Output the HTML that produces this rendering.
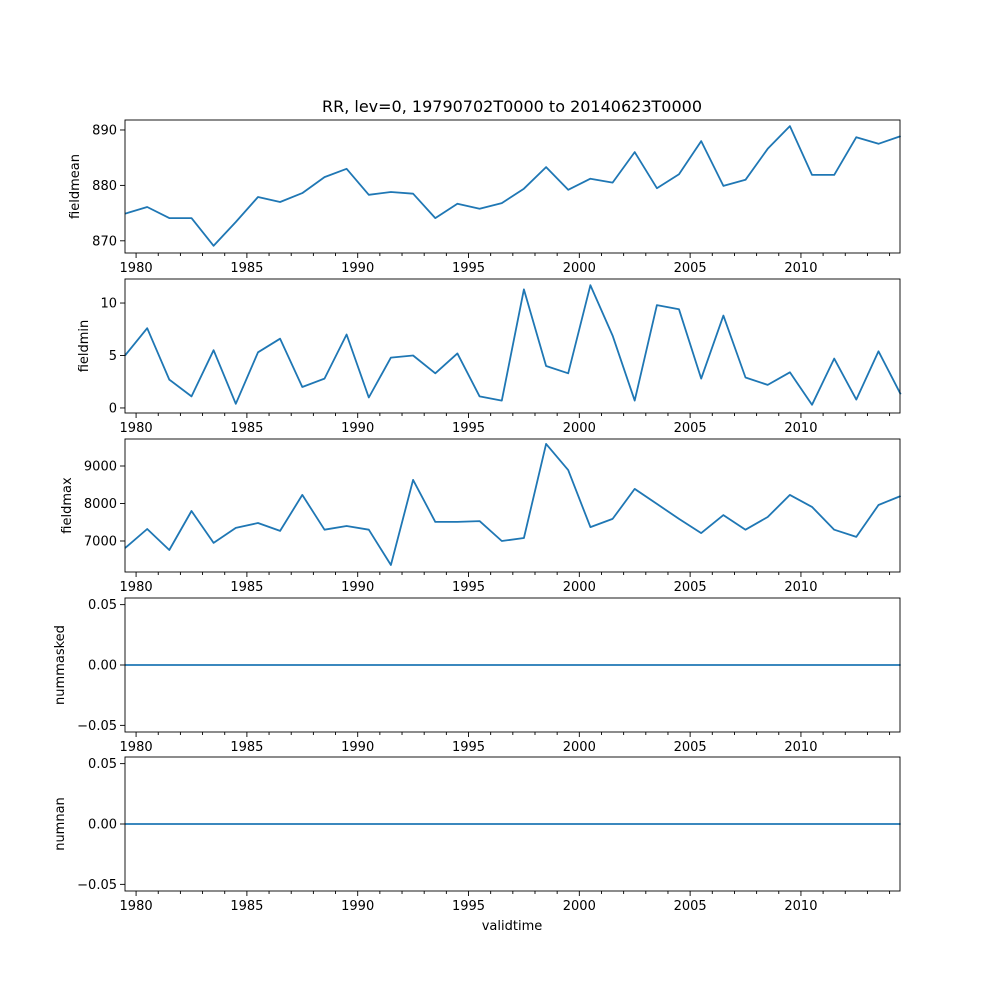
<!DOCTYPE html>
<html><head><meta charset="utf-8">
<style>body{margin:0;background:#fff}svg{display:block;font-family:"DejaVu Sans","Liberation Sans",sans-serif}</style>
</head><body>
<svg id="fig" width="1000" height="1000">
<text x="512" y="112" font-size="16" text-anchor="middle">RR, lev=0, 19790702T0000 to 20140623T0000</text>
<text x="512" y="930" font-size="13" text-anchor="middle">validtime</text>
</svg>
<script>
const years = [];
for (let i = 0; i < 36; i++) years.push(1979.5 + i);
const fieldmean = [874.9,876.1,874.1,874.1,869.1,873.4,877.9,877.0,878.6,881.5,883.0,878.3,878.8,878.5,874.1,876.7,875.8,876.8,879.4,883.3,879.2,881.2,880.5,886.0,879.5,882.0,888.0,879.9,881.0,886.6,890.7,881.9,881.9,888.7,887.5,888.9];
const fieldmin = [5.0,7.6,2.7,1.1,5.5,0.4,5.3,6.6,2.0,2.8,7.0,1.0,4.8,5.0,3.3,5.2,1.1,0.7,11.3,4.0,3.3,11.7,6.9,0.7,9.8,9.4,2.8,8.8,2.9,2.2,3.4,0.3,4.7,0.8,5.4,1.3];
const fieldmax = [6810,7320,6760,7800,6950,7350,7480,7270,8230,7300,7400,7300,6360,8630,7510,7510,7530,7000,7080,9590,8890,7370,7590,8390,7990,7590,7210,7690,7300,7640,8230,7910,7300,7110,7960,8200];
const nummasked = new Array(36).fill(0);
const numnan = new Array(36).fill(0);
const xTicks = [1980,1985,1990,1995,2000,2005,2010];
const panels = [
 {name:'fieldmean',data:fieldmean,top:120,bot:253,ymin:867.8,ymax:891.8,ticks:[870,880,890],labels:['870','880','890'],lx:79},
 {name:'fieldmin',data:fieldmin,top:279,bot:413,ymin:-0.48,ymax:12.29,ticks:[0,5,10],labels:['0','5','10'],lx:88},
 {name:'fieldmax',data:fieldmax,top:439,bot:572,ymin:6173,ymax:9720,ticks:[7000,8000,9000],labels:['7000','8000','9000'],lx:71},
 {name:'nummasked',data:nummasked,top:598,bot:732,ymin:-0.0555,ymax:0.0555,ticks:[-0.05,0,0.05],labels:['\u22120.05','0.00','0.05'],lx:64},
 {name:'numnan',data:numnan,top:757,bot:891,ymin:-0.0555,ymax:0.0555,ticks:[-0.05,0,0.05],labels:['\u22120.05','0.00','0.05'],lx:64}
];
const L=125,R=900,x0=1979.5,x1=2014.47;
const sx=v=>L+(v-x0)/(x1-x0)*(R-L);
const svg=document.getElementById('fig');
const NS='http://www.w3.org/2000/svg';
function mk(tag,attrs,parent){const e=document.createElementNS(NS,tag);for(const k in attrs)e.setAttribute(k,attrs[k]);(parent||svg).appendChild(e);return e;}
panels.forEach(p=>{
 const g=mk('g',{});
 
 
 const sy=v=>p.bot-(v-p.ymin)/(p.ymax-p.ymin)*(p.bot-p.top);
 for(let y=1980;y<=2014;y++){const x=sx(y);const major=xTicks.includes(y);
  mk('line',{x1:x,x2:x,y1:p.bot,y2:p.bot+(major?5:3),stroke:'#000','stroke-width':0.9},g);
  if(major){const t=mk('text',{x:x,y:p.bot+19,'font-size':13,'text-anchor':'middle'},g);t.textContent=y;
   }
 }
 p.ticks.forEach((v,i)=>{const y=sy(v);
  mk('line',{x1:L-5,x2:L,y1:y,y2:y,stroke:'#000','stroke-width':0.9},g);
  const t=mk('text',{x:L-8,y:y+4.5,'font-size':13,'text-anchor':'end'},g);t.textContent=p.labels[i];
  
 });
 const pts=p.data.map((v,i)=>sx(years[i]).toFixed(1)+','+sy(v).toFixed(1)).join(' ');
 const pl=mk('polyline',{points:pts,fill:'none',stroke:'#1f77b4','stroke-width':1.8,'stroke-linejoin':'round'},g);
 
 
 const fr=mk('rect',{x:L,y:p.top,width:R-L,height:p.bot-p.top,fill:'none',stroke:'#000','stroke-width':0.9},g);
 
 
 const cy=(p.top+p.bot)/2;
 const yl=mk('text',{x:p.lx,y:cy,'font-size':13,'text-anchor':'middle',transform:`rotate(-90 ${p.lx} ${cy})`},g);
 yl.textContent=p.name;
 
 
});
</script>
</body></html>
